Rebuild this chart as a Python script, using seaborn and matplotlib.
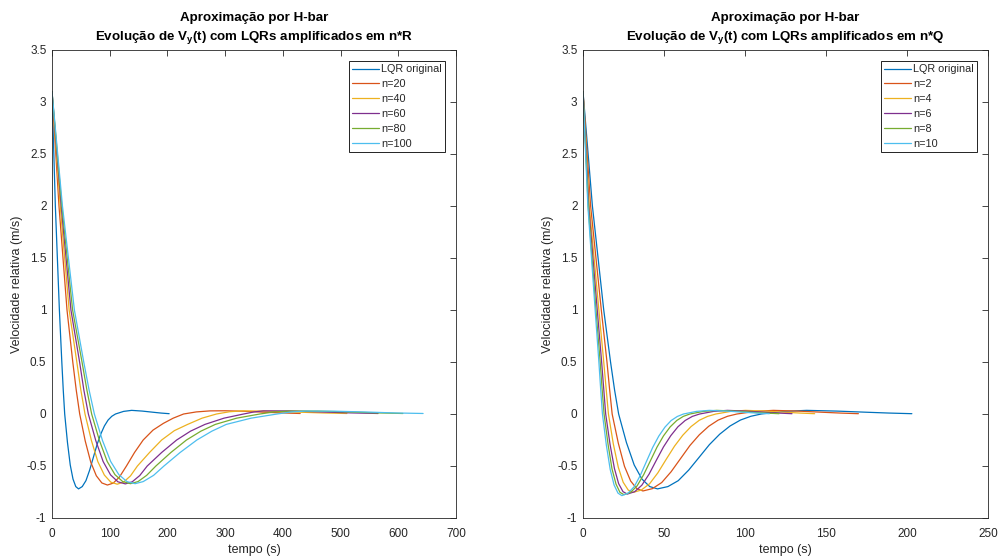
import numpy as np
import pandas as pd
import matplotlib
matplotlib.use("Agg")
import matplotlib.pyplot as plt
import seaborn as sns

# ---------------- data ----------------
# "LQR original" (shared by both panels)
blue_t = [0, 5.8, 12.8, 17, 19.5, 22, 26.8, 31.6, 36.4, 41.2, 46, 52.4, 58.8, 65.2, 71.6, 78, 84.4, 90.8, 97.2, 103.6, 110, 124, 138, 156.5, 175, 189, 203]
blue_v = [3.1, 2.0, 1.0, 0.5, 0.23, 0.0, -0.274, -0.49, -0.626, -0.698, -0.72, -0.698, -0.641, -0.54, -0.418, -0.295, -0.194, -0.115, -0.058, -0.022, 0.0, 0.025, 0.035, 0.028, 0.017, 0.009, 0.003]

# Left panel: LQR amplified in n*R
r20_t = [0, 12.1, 26, 36, 42, 48, 57.6, 67.2, 76.8, 86.4, 96, 106, 117, 129, 143, 158, 175, 193, 210, 228, 250, 274, 300, 330, 365, 400, 430]
r20_v = [3.1, 2.0, 1.0, 0.5, 0.23, 0.0, -0.26, -0.464, -0.594, -0.663, -0.683, -0.665, -0.605, -0.5, -0.37, -0.25, -0.155, -0.09, -0.04, 0.0, 0.02, 0.03, 0.031, 0.027, 0.018, 0.01, 0.005]

r40_t = [0, 14.2, 29.7, 43, 50, 57.2, 68.4, 79.5, 90.7, 101.8, 113, 124, 136, 148, 169, 190, 212, 235, 260, 285, 308, 331, 370, 420, 470, 511]
r40_v = [3.1, 2.0, 1.0, 0.5, 0.23, 0.0, -0.257, -0.459, -0.587, -0.655, -0.675, -0.655, -0.595, -0.5, -0.37, -0.25, -0.16, -0.1, -0.04, 0.0, 0.022, 0.03, 0.028, 0.019, 0.01, 0.005]

r60_t = [0, 15.9, 32.8, 47.8, 55.2, 63, 75.8, 88.6, 101.4, 114.2, 127, 139, 152, 165, 190, 216, 240, 265, 298, 332, 350, 366, 410, 460, 515, 565]
r60_v = [3.1, 2.0, 1.0, 0.5, 0.23, 0.0, -0.255, -0.457, -0.585, -0.652, -0.672, -0.652, -0.592, -0.5, -0.37, -0.25, -0.165, -0.1, -0.04, 0.0, 0.02, 0.03, 0.03, 0.021, 0.011, 0.005]

r80_t = [0, 17, 35.7, 52, 60.5, 68.7, 82.2, 95.6, 109.1, 122.5, 136, 149, 164, 180, 206, 233, 258, 283, 320, 360, 385, 410, 460, 510, 560, 608]
r80_v = [3.1, 2.0, 1.0, 0.5, 0.23, 0.0, -0.255, -0.456, -0.583, -0.65, -0.67, -0.65, -0.59, -0.5, -0.37, -0.25, -0.165, -0.1, -0.04, 0.0, 0.02, 0.028, 0.028, 0.02, 0.011, 0.005]

r100_t = [0, 18.1, 38.8, 55, 64.3, 73.4, 87.5, 101.6, 115.8, 129.9, 144, 158, 176, 194, 222, 251, 277, 302, 345, 390, 415, 440, 490, 545, 595, 643]
r100_v = [3.1, 2.0, 1.0, 0.5, 0.23, 0.0, -0.255, -0.456, -0.583, -0.65, -0.67, -0.65, -0.59, -0.5, -0.37, -0.25, -0.165, -0.1, -0.04, 0.0, 0.02, 0.028, 0.027, 0.019, 0.01, 0.005]

# Right panel: LQR amplified in n*Q
q2_t = [0, 4.7, 11.3, 14.8, 16.4, 18, 21.8, 25.6, 29.4, 33.2, 37, 42.8, 48.6, 54.4, 60.2, 66, 71.8, 77.6, 83.4, 89.2, 95, 106.3, 117.5, 132.5, 147.5, 158.8, 170]
q2_v = [3.1, 2.0, 1.0, 0.5, 0.24, 0.0, -0.281, -0.503, -0.644, -0.718, -0.74, -0.718, -0.659, -0.555, -0.429, -0.303, -0.2, -0.118, -0.059, -0.022, 0.0, 0.025, 0.035, 0.028, 0.017, 0.009, 0.003]

q4_t = [0, 3.9, 9.8, 12.8, 14.3, 15.7, 18.7, 21.8, 24.8, 27.9, 30.9, 36, 41.1, 46.2, 51.3, 56.5, 61.6, 66.7, 71.8, 76.9, 82, 91.2, 100.3, 112.5, 124.7, 133.9, 143]
q4_v = [3.1, 2.0, 1.0, 0.5, 0.24, 0.0, -0.287, -0.513, -0.656, -0.731, -0.754, -0.731, -0.671, -0.566, -0.437, -0.309, -0.204, -0.121, -0.06, -0.023, 0.0, 0.025, 0.035, 0.028, 0.017, 0.009, 0.003]

q6_t = [0, 3.5, 8.8, 11.5, 12.8, 14, 16.7, 19.4, 22, 24.7, 27.4, 31.9, 36.3, 40.8, 45.2, 49.7, 54.2, 58.6, 63.1, 67.5, 72, 80.6, 89.1, 100.5, 111.9, 120.5, 129]
q6_v = [3.1, 2.0, 1.0, 0.5, 0.24, 0.0, -0.293, -0.524, -0.67, -0.747, -0.77, -0.747, -0.685, -0.578, -0.447, -0.316, -0.208, -0.123, -0.062, -0.023, 0.0, 0.025, 0.035, 0.028, 0.017, 0.009, 0.003]

q8_t = [0, 3.2, 8, 10.6, 11.8, 13, 15.5, 17.9, 20.4, 22.8, 25.3, 29.4, 33.4, 37.5, 41.6, 45.7, 49.7, 53.8, 57.9, 61.9, 66, 74.3, 82.5, 93.5, 104.5, 112.8, 121]
q8_v = [3.1, 2.0, 1.0, 0.5, 0.24, 0.0, -0.295, -0.528, -0.675, -0.753, -0.776, -0.753, -0.691, -0.582, -0.45, -0.318, -0.21, -0.124, -0.062, -0.023, 0.0, 0.025, 0.035, 0.028, 0.017, 0.009, 0.003]

q10_t = [0, 3, 7.5, 9.8, 10.9, 12, 14.4, 16.8, 19.2, 21.6, 24, 27.8, 31.6, 35.4, 39.2, 43, 46.8, 50.6, 54.4, 58.2, 62, 70, 77.9, 88.5, 99.1, 107, 115]
q10_v = [3.1, 2.0, 1.0, 0.5, 0.24, 0.0, -0.298, -0.534, -0.683, -0.761, -0.785, -0.761, -0.699, -0.589, -0.455, -0.322, -0.212, -0.126, -0.063, -0.024, 0.0, 0.025, 0.035, 0.028, 0.017, 0.009, 0.003]

left_labels = ["LQR original", "n=20", "n=40", "n=60", "n=80", "n=100"]
right_labels = ["LQR original", "n=2", "n=4", "n=6", "n=8", "n=10"]
left_series = [(blue_t, blue_v), (r20_t, r20_v), (r40_t, r40_v), (r60_t, r60_v), (r80_t, r80_v), (r100_t, r100_v)]
right_series = [(blue_t, blue_v), (q2_t, q2_v), (q4_t, q4_v), (q6_t, q6_v), (q8_t, q8_v), (q10_t, q10_v)]

left_xticks = [0, 100, 200, 300, 400, 500, 600, 700]
right_xticks = [0, 50, 100, 150, 200, 250]
yticks = [-1, -0.5, 0, 0.5, 1, 1.5, 2, 2.5, 3, 3.5]
ytick_labels = ["-1", "-0.5", "0", "0.5", "1", "1.5", "2", "2.5", "3", "3.5"]

colors = ["#0072BD", "#D95319", "#EDB120", "#7E2F8E", "#77AC30", "#4DBEEE"]

title1 = "Aproximação por H-bar"
left_title2 = r"Evolução de V$_{y}$(t) com LQRs amplificados em n*R"
right_title2 = r"Evolução de V$_{y}$(t) com LQRs amplificados em n*Q"

# ---------------- style ----------------
sns.set_style("white")
plt.rcParams["font.family"] = ["Liberation Sans", "DejaVu Sans"]
plt.rcParams["mathtext.fontset"] = "custom"
plt.rcParams["mathtext.rm"] = "Liberation Sans"
plt.rcParams["mathtext.bf"] = "Liberation Sans:bold"
plt.rcParams["mathtext.default"] = "bf"

fig = plt.figure(figsize=(9.98, 5.58), dpi=100)
axL = fig.add_axes([52 / 998, 40 / 558, 404 / 998, 468 / 558])
axR = fig.add_axes([583 / 998, 40 / 558, 405 / 998, 468 / 558])

def build_df(series, labels):
    frames = []
    for (t, v), lab in zip(series, labels):
        frames.append(pd.DataFrame({"t": t, "v": v, "serie": lab}))
    return pd.concat(frames, ignore_index=True)

gray = "#262626"
for ax, series, labels, xt, t2 in [
    (axL, left_series, left_labels, left_xticks, left_title2),
    (axR, right_series, right_labels, right_xticks, right_title2),
]:
    df = build_df(series, labels)
    sns.lineplot(data=df, x="t", y="v", hue="serie", hue_order=labels,
                 palette=colors, estimator=None, sort=False, linewidth=0.9,
                 ax=ax)
    ax.set_xlim(xt[0], xt[-1])
    ax.set_ylim(-1, 3.5)
    ax.set_xticks(xt)
    ax.set_xticklabels([str(x) for x in xt])
    ax.set_yticks(yticks)
    ax.set_yticklabels(ytick_labels)
    ax.tick_params(direction="in", top=True, right=True, length=4, width=0.6,
                   colors=gray, labelsize=8.5)
    ax.tick_params(axis="x", pad=7)
    ax.tick_params(axis="y", pad=4)
    for s in ax.spines.values():
        s.set_visible(True)
        s.set_color(gray)
        s.set_linewidth(0.6)
    ax.set_xlabel("tempo (s)", fontsize=9, color=gray, labelpad=3)
    ax.set_ylabel("Velocidade relativa (m/s)", fontsize=9, color=gray, labelpad=2)
    ax.set_title(title1 + "\n" + t2, fontsize=9.6, fontweight="bold",
                 color="black", pad=7, linespacing=1.5)
    h, l = ax.get_legend_handles_labels()
    leg = ax.legend(h, l, loc="upper right", fontsize=7.8, frameon=True,
                    fancybox=False, edgecolor="black", framealpha=1,
                    borderaxespad=1.0, handlelength=2.5, handletextpad=0.15,
                    labelspacing=0.45, borderpad=0.32)
    leg.get_frame().set_linewidth(0.6)
    for line in leg.get_lines():
        line.set_linewidth(0.9)

fig.savefig("out.png", dpi=100)
